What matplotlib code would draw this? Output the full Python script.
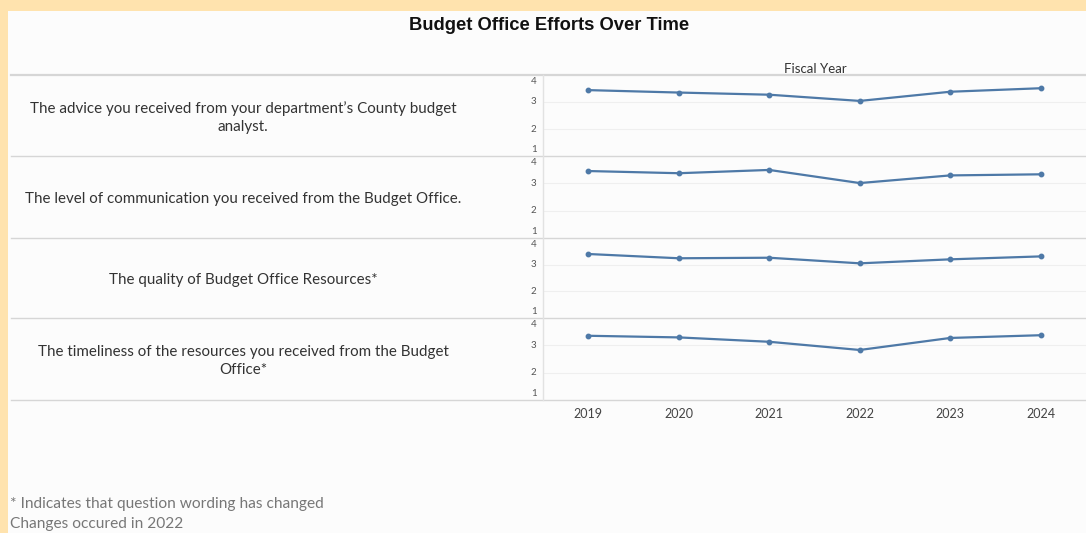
import matplotlib
matplotlib.use("Agg")
import matplotlib.pyplot as plt
from matplotlib.lines import Line2D
from matplotlib.patches import Rectangle

# datos
years = [2019, 2020, 2021, 2022, 2023, 2024]

preguntas = [
    "The advice you received from your department\u2019s County budget\nanalyst.",
    "The level of communication you received from the Budget Office.",
    "The quality of Budget Office Resources*",
    "The timeliness of the resources you received from the Budget\nOffice*",
]

advice = [3.44, 3.35, 3.27, 3.04, 3.38, 3.51]
communication = [3.45, 3.37, 3.49, 3.01, 3.29, 3.33]
quality = [3.40, 3.24, 3.26, 3.05, 3.20, 3.31]
timeliness = [3.35, 3.29, 3.13, 2.83, 3.27, 3.37]

series = [advice, communication, quality, timeliness]

ytcks = [1, 2, 3, 4]

titulo = "Budget Office Efforts Over Time"
nota1 = "* Indicates that question wording has changed"
nota2 = "Changes occured in 2022"

W, H = 1086, 533
fig = plt.figure(figsize=(W / 100, H / 100), dpi=100)
fig.patch.set_facecolor("#FFE3AE")

def fx(x):
    return x / W

def fy(y):
    return 1 - y / H

# panel blanco
fig.add_artist(Rectangle((fx(8), 0), 1 - fx(8), fy(11), transform=fig.transFigure,
                         facecolor="#FCFCFC", edgecolor="none", zorder=0))

fig.text(fx(549), fy(26), titulo, ha="center", va="center", fontsize=13.2,
         fontweight="bold", family="Liberation Sans", color="#111111")
fig.text(fx(815), fy(69), "Fiscal Year", ha="center", va="center", fontsize=9.5,
         family="Lato", color="#333333")

bordes = [75, 156, 238, 318, 400]
x0, x1 = 543, 1086
azul = "#4E79A7"

for i, vals in enumerate(series):
    top, bot = bordes[i], bordes[i + 1]
    ax = fig.add_axes([fx(x0), fy(bot), fx(x1) - fx(x0), (bot - top) / H])
    ax.set_facecolor("none")
    ax.plot(years, vals, "-o", color=azul, lw=1.6, markersize=3.2)
    ax.set_xlim(2018.5, 2024.5)
    ax.set_ylim(1, 4)
    for s in ax.spines.values():
        s.set_visible(False)
    for g in [2, 3]:
        ax.axhline(g, color="#EFEFEF", lw=0.8, zorder=0)
    ax.set_yticks([])
    ax.tick_params(axis="x", length=0, pad=6, labelsize=9, labelcolor="#444444")
    ax.set_xticks(years)
    if i < len(series) - 1:
        ax.set_xticklabels([])
    else:
        ax.set_xticklabels([str(y) for y in years], family="Lato")
    # etiquetas del eje y, 4 y 1 corridas hacia adentro
    tr = ax.get_yaxis_transform()
    for t in ytcks:
        va = "center"
        if t == 4:
            va = "top"
        elif t == 1:
            va = "bottom"
        ax.text(-0.012, t + (-0.07 if t == 4 else 0.07 if t == 1 else 0), str(t),
                transform=tr, ha="right", va=va, fontsize=7, color="#555555", family="Lato")
    # texto de la pregunta
    fig.text(fx(243), fy((top + bot) / 2 + 2), preguntas[i], ha="center", va="center",
             fontsize=10.9, family="Lato", color="#333333", linespacing=1.3)

for b in bordes:
    fig.add_artist(Line2D([fx(11), 1], [fy(b), fy(b)], transform=fig.transFigure,
                          color="#D6D6D6", lw=1.0 if b != 75 else 1.6))
fig.add_artist(Line2D([fx(x0), fx(x0)], [fy(75), fy(400)], transform=fig.transFigure,
                      color="#E2E2E2", lw=1.0))

fig.text(fx(10), fy(504), nota1, ha="left", va="center", fontsize=11.2,
         family="Lato", color="#777777")
fig.text(fx(10), fy(524), nota2, ha="left", va="center", fontsize=11.2,
         family="Lato", color="#777777")

plt.savefig("out.png", dpi=100, facecolor=fig.get_facecolor())
